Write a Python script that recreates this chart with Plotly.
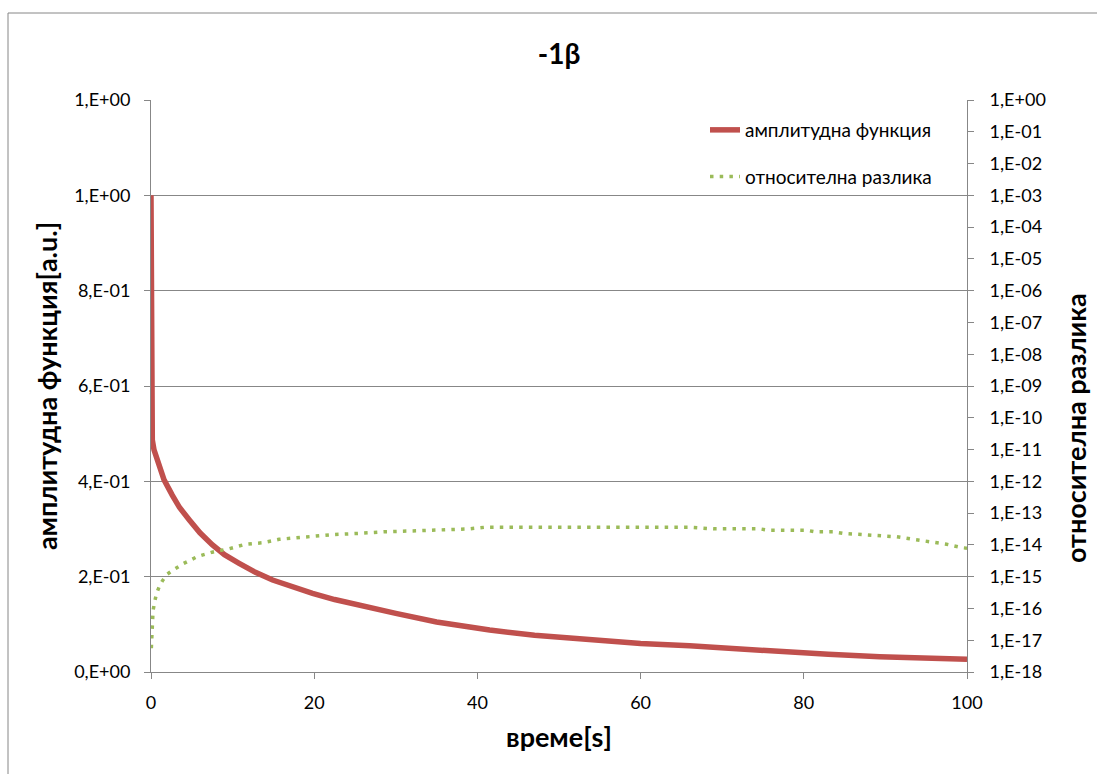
import plotly.graph_objects as go

# amplitude function, left axis
t_amp = [0, 0.02, 0.16, 0.37, 1.0, 1.6, 2.6, 3.5, 4.7, 6.0, 7.5, 9.0, 10.8, 12.8,
         14.9, 17.3, 19.8, 22.5, 25.1, 27.5, 30, 35, 41.5, 47, 53.7, 60, 66, 71,
         77, 83, 89.3, 95, 100]
amp = [1.0, 0.495, 0.487, 0.466, 0.43, 0.403, 0.371, 0.345, 0.319, 0.292, 0.267,
       0.246, 0.228, 0.209, 0.193, 0.178, 0.165, 0.152, 0.141, 0.132, 0.123, 0.105,
       0.088, 0.077, 0.067, 0.060, 0.055, 0.049, 0.043, 0.037, 0.032, 0.029, 0.027]

# relative difference, right (log) axis
t_rel = [0.04, 0.08, 0.12, 0.16, 0.25, 0.45, 0.65, 1.0, 1.4, 2.0, 2.6, 4.0, 5.7,
         7.5, 9.6, 11.6, 13.7, 15.7, 19, 22.2, 25.5, 28.8, 33, 39, 41, 50, 60, 66,
         68.9, 74.6, 75.6, 80.3, 81.3, 83.6, 84.8, 86.9, 89.3, 91.4, 93.4, 95.5,
         97.5, 99.5, 100]
rel = [5.6e-18, 1.15e-17, 2.2e-17, 4.4e-17, 8.5e-17, 1.6e-16, 2.8e-16, 4.8e-16,
       7.4e-16, 1.2e-15, 1.55e-15, 2.6e-15, 4.3e-15, 5.9e-15, 7.6e-15, 1.05e-14,
       1.17e-14, 1.5e-14, 1.8e-14, 2.1e-14, 2.3e-14, 2.6e-14, 2.8e-14, 3.2e-14,
       3.6e-14, 3.6e-14, 3.6e-14, 3.6e-14, 3.2e-14, 3.2e-14, 2.9e-14, 2.9e-14,
       2.6e-14, 2.6e-14, 2.3e-14, 2.1e-14, 2.0e-14, 1.8e-14, 1.5e-14, 1.26e-14,
       1.05e-14, 8.1e-15, 7.9e-15]

left_ticks = [0, 0.2, 0.4, 0.6, 0.8, 1.0, 1.2]
left_labels = ["0,E+00", "2,E-01", "4,E-01", "6,E-01", "8,E-01", "1,E+00", "1,E+00"]
right_exps = list(range(-18, 1))
right_ticks = [10.0 ** e for e in right_exps]
right_labels = ["1,E+00" if e == 0 else "1,E-%02d" % (-e) for e in right_exps]
x_ticks = [0, 20, 40, 60, 80, 100]

FONT = "Lato, 'Noto Sans', sans-serif"
GRID = "#878787"

fig = go.Figure()
fig.add_trace(go.Scatter(
    x=t_amp, y=amp, mode="lines", name="амплитудна функция",
    line=dict(color="#C0504D", width=5.5), legendgroup="a", yaxis="y"))
fig.add_trace(go.Scatter(
    x=t_rel, y=rel, mode="lines", name="относителна разлика",
    line=dict(color="#9BBB59", width=3.5, dash="3.5px,6.2px"),
    legendgroup="b", yaxis="y2"))

fig.update_layout(
    width=1097, height=774,
    margin=dict(l=151, r=130, t=100, b=102),
    paper_bgcolor="white", plot_bgcolor="white",
    font=dict(family=FONT, size=18, color="#000000"),
    title=dict(text="<b>-1β</b>", x=559 / 1097, xanchor="center",
               y=1 - 54 / 774, yanchor="middle", font=dict(size=28)),
    showlegend=True,
    legend=dict(x=(705 - 151) / 816, xanchor="left", y=(672 - 111) / 572,
                yanchor="top", bgcolor="rgba(0,0,0,0)", borderwidth=0,
                tracegroupgap=19, font=dict(size=19)),
    xaxis=dict(range=[0, 100], tickvals=x_ticks, showgrid=False, zeroline=False,
               showline=True, linecolor=GRID, linewidth=1,
               ticks="outside", ticklen=6, tickcolor=GRID, ticklabelstandoff=8,
               title=dict(text="<b>време[s]</b>", font=dict(size=27), standoff=16)),
    yaxis=dict(range=[0, 1.2], tickvals=left_ticks, ticktext=left_labels,
               showgrid=True, gridcolor=GRID, gridwidth=1, zeroline=False,
               showline=True, linecolor=GRID, linewidth=1,
               ticks="outside", ticklen=6, tickcolor=GRID, ticklabelstandoff=10,
               title=dict(text="<b>амплитудна функция[a.u.]</b>",
                          font=dict(size=27), standoff=8)),
    yaxis2=dict(type="log", range=[-18, 0], tickvals=right_ticks,
                ticktext=right_labels, overlaying="y", side="right",
                showgrid=False, zeroline=False, showline=True,
                linecolor=GRID, linewidth=1,
                ticks="outside", ticklen=6, tickcolor=GRID, ticklabelstandoff=12),
)

# right-hand axis caption, placed lower than the plot centre
fig.add_annotation(text="<b>относителна разлика</b>", textangle=-90,
                   xref="paper", yref="paper",
                   x=(1075 - 151) / 816, y=(672 - 428) / 572,
                   xanchor="center", yanchor="middle", showarrow=False,
                   font=dict(size=27))

# chart-area frame
fig.add_shape(type="rect", xref="paper", yref="paper",
              x0=(8 - 151) / 816, x1=(1120 - 151) / 816,
              y0=(672 - 820) / 572, y1=(672 - 13) / 572,
              line=dict(color="#868686", width=1), layer="below")

fig.write_html("out.html")
